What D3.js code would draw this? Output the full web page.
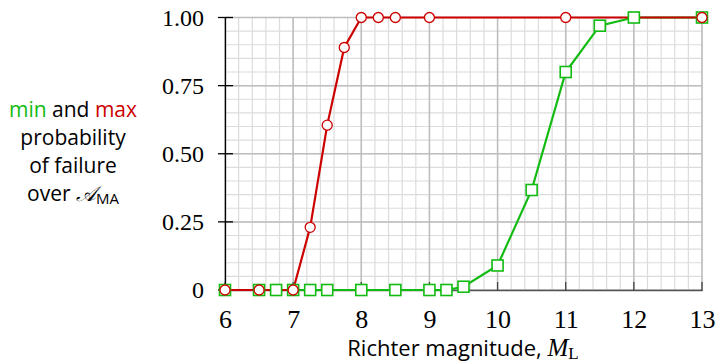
<!DOCTYPE html>
<html>
<head>
<meta charset="utf-8">
<script src="https://cdn.jsdelivr.net/npm/d3@7"></script>
<style>
  body { margin: 0; background: #fff; }
</style>
</head>
<body>
<div id="vis"></div>
<script>
// Chart data
const maxX = [6, 6.5, 7, 7.25, 7.5, 7.75, 8, 8.25, 8.5, 9, 11, 13];
const maxY = [0, 0, 0, 0.23, 0.605, 0.89, 1, 1, 1, 1, 1, 1];
const minX = [6, 6.5, 6.75, 7, 7.25, 7.5, 8, 8.5, 9, 9.25, 9.5, 10, 10.5, 11, 11.5, 12, 13];
const minY = [0, 0, 0, 0, 0, 0, 0, 0, 0, 0, 0.012, 0.09, 0.367, 0.80, 0.97, 1, 1];
const xTicks = [6, 7, 8, 9, 10, 11, 12, 13];
const yTicks = [0, 0.25, 0.5, 0.75, 1];
const yTickLabels = ['0', '0.25', '0.50', '0.75', '1.00'];

const red = '#cc0000', green = '#11bb11';
const serif = '"Liberation Serif", "DejaVu Serif", serif';
const sans = '"Open Sans", "DejaVu Sans", sans-serif';

const W = 717, H = 362;
const svg = d3.select('#vis').append('svg')
    .attr('width', W)
    .attr('height', H);

const xScale = d3.scaleLinear().domain([6, 13]).range([225, 702]);
const yScale = d3.scaleLinear().domain([0, 1]).range([290, 17.5]);

// Grid: minor lines first, then major
const xMinor = d3.range(6, 13.001, 0.2);
const yMinor = d3.range(0, 1.001, 0.05);
const grid = svg.append('g');
grid.selectAll('.vminor').data(xMinor).join('line')
    .attr('x1', d => xScale(d)).attr('x2', d => xScale(d))
    .attr('y1', yScale(0)).attr('y2', yScale(1))
    .attr('stroke', '#dcdcdc').attr('stroke-width', 1.2);
grid.selectAll('.hminor').data(yMinor).join('line')
    .attr('y1', d => yScale(d)).attr('y2', d => yScale(d))
    .attr('x1', xScale(6)).attr('x2', xScale(13))
    .attr('stroke', '#dcdcdc').attr('stroke-width', 1.2);
grid.selectAll('.vmajor').data(xTicks).join('line')
    .attr('x1', d => xScale(d)).attr('x2', d => xScale(d))
    .attr('y1', yScale(0)).attr('y2', yScale(1))
    .attr('stroke', '#bdbdbd').attr('stroke-width', 1.5);
grid.selectAll('.hmajor').data(yTicks).join('line')
    .attr('y1', d => yScale(d)).attr('y2', d => yScale(d))
    .attr('x1', xScale(6)).attr('x2', xScale(13))
    .attr('stroke', '#bdbdbd').attr('stroke-width', 1.5);

// Bottom axis
const xAxis = svg.append('g')
    .attr('transform', `translate(0,${yScale(0)})`)
    .call(d3.axisBottom(xScale).tickValues(xTicks).tickSize(0)
        .tickFormat(d => d));
xAxis.select('.domain').attr('stroke', '#555').attr('stroke-width', 1.6);
xAxis.selectAll('.tick text')
    .attr('font-family', serif)
    .attr('font-size', 26)
    .attr('fill', '#000')
    .attr('dy', null)
    .attr('y', 37.5);
svg.append('g').selectAll('line').data(xTicks).join('line')
    .attr('x1', d => xScale(d)).attr('x2', d => xScale(d))
    .attr('y1', yScale(0) - 8).attr('y2', yScale(0) + 1)
    .attr('stroke', '#444').attr('stroke-width', 1.3);

// Left axis
const yAxis = svg.append('g')
    .attr('transform', `translate(${xScale(6)},0)`)
    .call(d3.axisLeft(yScale).tickValues(yTicks).tickSize(0).tickPadding(21)
        .tickFormat((d, i) => yTickLabels[i]));
yAxis.select('.domain').attr('stroke', '#000').attr('stroke-width', 1.3);
yAxis.selectAll('.tick text')
    .attr('font-family', serif)
    .attr('font-size', 24)
    .attr('fill', '#000')
    .attr('dy', '0.33em');
svg.append('g').selectAll('line').data(yTicks).join('line')
    .attr('y1', d => yScale(d)).attr('y2', d => yScale(d))
    .attr('x1', xScale(6) - 7).attr('x2', xScale(6) + 8)
    .attr('stroke', '#000').attr('stroke-width', 1.3);

// Series
const minData = minX.map((x, i) => ({ x, y: minY[i] }));
const maxData = maxX.map((x, i) => ({ x, y: maxY[i] }));
const line = d3.line().x(d => xScale(d.x)).y(d => yScale(d.y));

svg.append('path').datum(minData)
    .attr('d', line).attr('fill', 'none')
    .attr('stroke', green).attr('stroke-width', 2.2);
svg.append('path').datum(maxData)
    .attr('d', line).attr('fill', 'none')
    .attr('stroke', red).attr('stroke-width', 2.2);

const sq = 11;
svg.append('g').selectAll('rect').data(minData).join('rect')
    .attr('x', d => xScale(d.x) - sq / 2)
    .attr('y', d => yScale(d.y) - sq / 2)
    .attr('width', sq).attr('height', sq)
    .attr('fill', '#fff').attr('stroke', green).attr('stroke-width', 1.6);
svg.append('g').selectAll('circle').data(maxData).join('circle')
    .attr('cx', d => xScale(d.x))
    .attr('cy', d => yScale(d.y))
    .attr('r', 5)
    .attr('fill', '#fff').attr('stroke', red).attr('stroke-width', 1.3);

// X label
const xl = svg.append('text')
    .attr('font-family', sans)
    .attr('font-size', 22)
    .attr('x', 463).attr('y', 356)
    .attr('text-anchor', 'middle');
xl.append('tspan').text('Richter magnitude, ');
xl.append('tspan').attr('font-family', serif).attr('font-style', 'italic')
    .attr('font-size', 25).text('M');
xl.append('tspan').attr('font-family', serif)
    .attr('font-size', 17).attr('dy', 3).text('L');

// Y label (multi-line)
const yl = svg.append('g').attr('font-family', sans).attr('font-size', 21)
    .attr('text-anchor', 'middle');
const l1 = yl.append('text').attr('x', 73).attr('y', 117);
l1.append('tspan').attr('fill', green).text('min');
l1.append('tspan').text(' and ');
l1.append('tspan').attr('fill', red).text('max');
yl.append('text').attr('x', 73).attr('y', 145).text('probability');
yl.append('text').attr('x', 73).attr('y', 173).text('of failure');
const l4 = yl.append('text').attr('x', 73).attr('y', 201);
l4.append('tspan').text('over ');
l4.append('tspan').attr('font-family', '"DejaVu Serif", serif').attr('font-style', 'italic').text('𝒜');
l4.append('tspan').attr('font-size', 15).attr('dy', 3).text('MA');
</script>
</body>
</html>
